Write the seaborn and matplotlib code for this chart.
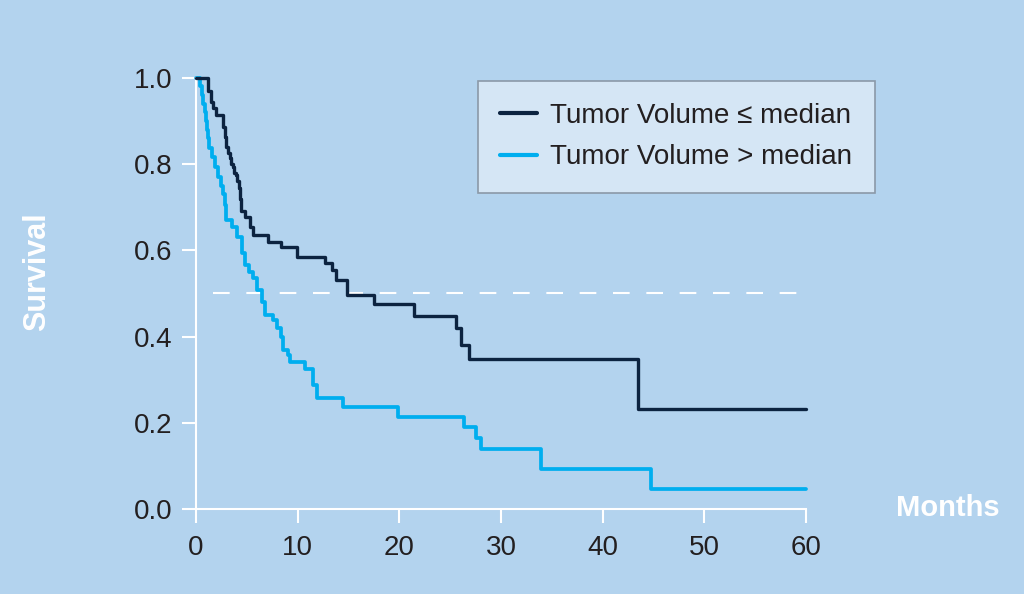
import matplotlib
matplotlib.use('Agg')

import pandas as pd
import matplotlib.pyplot as plt
import seaborn as sns

# ---------------- DATA ----------------
LOW_LABEL = "Tumor Volume \u2264 median"
HIGH_LABEL = "Tumor Volume > median"

low_months = [0, 1.18, 1.45, 1.67, 1.97, 2.69, 2.85, 3.0, 3.15, 3.3, 3.45, 3.6, 3.75,
              3.9, 4.05, 4.2, 4.3, 4.4, 4.82, 5.3, 5.64, 7.1, 8.32, 9.96, 12.7, 13.4,
              13.8, 14.9, 17.5, 21.4, 25.6, 26.1, 26.9, 43.5, 60]
low_surv = [1.0, 0.97, 0.945, 0.93, 0.914, 0.887, 0.862, 0.84, 0.825, 0.814, 0.80, 0.794,
            0.78, 0.775, 0.76, 0.745, 0.72, 0.69, 0.678, 0.655, 0.636, 0.62, 0.607, 0.585,
            0.57, 0.555, 0.531, 0.497, 0.476, 0.448, 0.419, 0.38, 0.347, 0.232, 0.232]

high_months = [0, 0.4, 0.55, 0.7, 0.85, 0.95, 1.05, 1.15, 1.25, 1.54, 1.87, 2.16, 2.46,
               2.66, 2.85, 2.95, 3.5, 4.0, 4.5, 4.8, 5.2, 5.64, 5.97, 6.47, 6.8, 7.6, 8.0,
               8.4, 8.56, 9.05, 9.2, 10.7, 11.55, 11.9, 14.5, 19.9, 26.4, 27.5, 28.0, 33.9,
               44.8, 60]
high_surv = [1.0, 0.98, 0.96, 0.94, 0.92, 0.90, 0.88, 0.86, 0.838, 0.817, 0.794, 0.77, 0.75,
             0.73, 0.705, 0.67, 0.655, 0.632, 0.594, 0.566, 0.55, 0.536, 0.508, 0.481, 0.45,
             0.438, 0.419, 0.40, 0.369, 0.357, 0.342, 0.324, 0.288, 0.257, 0.237, 0.214,
             0.19, 0.165, 0.14, 0.093, 0.047, 0.047]

MEDIAN_LEVEL = 0.5
MEDIAN_LINE_START = 1.7
x_ticks = [0, 10, 20, 30, 40, 50, 60]
y_ticks = [0.0, 0.2, 0.4, 0.6, 0.8, 1.0]
# --------------------------------------

BG = "#b3d3ee"
DARK = "#0c2340"
LIGHT = "#00aeef"
TEXT = "#231f20"

df = pd.concat([
    pd.DataFrame({"months": low_months, "survival": low_surv, "group": LOW_LABEL}),
    pd.DataFrame({"months": high_months, "survival": high_surv, "group": HIGH_LABEL}),
])

sns.set_theme(style="white")
plt.rcParams['font.family'] = ['Liberation Sans', 'DejaVu Sans']

fig = plt.figure(figsize=(10.24, 5.94), dpi=100, facecolor=BG)
ax = fig.add_axes([0.1914, 0.143, 0.5957, 0.726])
ax.set_facecolor(BG)

sns.lineplot(data=df, x="months", y="survival", hue="group",
             palette={LOW_LABEL: DARK, HIGH_LABEL: LIGHT},
             hue_order=[LOW_LABEL, HIGH_LABEL],
             estimator=None, sort=False, drawstyle="steps-post",
             linewidth=2.4, ax=ax, legend=True)

# dark curve drawn over the light one where they overlap at the start
for line in ax.lines:
    line.set_clip_on(False)
ax.lines[0].set_zorder(3)
ax.lines[1].set_zorder(2)
ax.lines[1].set_linewidth(2.7)

ax.hlines(MEDIAN_LEVEL, MEDIAN_LINE_START, 60, colors="white", linewidth=1.5,
          linestyles=(0, (8, 8)), zorder=1)

ax.set_xlim(0, 60)
ax.set_ylim(0, 1.0)
ax.set_xticks(x_ticks)
ax.set_yticks(y_ticks)
ax.set_yticklabels([f"{v:.1f}" for v in y_ticks])
ax.tick_params(axis="both", direction="out", length=10, width=1.5, color="white",
               labelsize=20, labelcolor=TEXT, bottom=True, left=True)
ax.tick_params(axis="x", pad=9)
ax.tick_params(axis="y", pad=7)

for side in ["top", "right"]:
    ax.spines[side].set_visible(False)
for side in ["left", "bottom"]:
    ax.spines[side].set_color("white")
    ax.spines[side].set_linewidth(1.5)

ax.set_xlabel("")
ax.set_ylabel("")
fig.text(0.036, 0.542, "Survival", rotation=90, color="white", fontsize=22,
         fontweight="bold", ha="center", va="center")
fig.text(0.926, 0.145, "Months", color="white", fontsize=21, fontweight="bold",
         ha="center", va="center")

handles, labels = ax.get_legend_handles_labels()
leg = ax.legend(handles, labels, loc="upper left", bbox_to_anchor=(0.467, 0.864),
                bbox_transform=fig.transFigure, fontsize=20, frameon=True,
                fancybox=False, handlelength=1.3, handletextpad=0.5,
                borderpad=0.8, labelspacing=0.55, borderaxespad=0)
leg.get_frame().set_facecolor("#d5e6f5")
leg.get_frame().set_edgecolor("#8b99a8")
leg.get_frame().set_linewidth(1.2)
leg.get_frame().set_alpha(1)
for t in leg.get_texts():
    t.set_color(TEXT)
for h in leg.get_lines():
    h.set_linewidth(3)

fig.savefig("out.png", dpi=100, facecolor=BG)
